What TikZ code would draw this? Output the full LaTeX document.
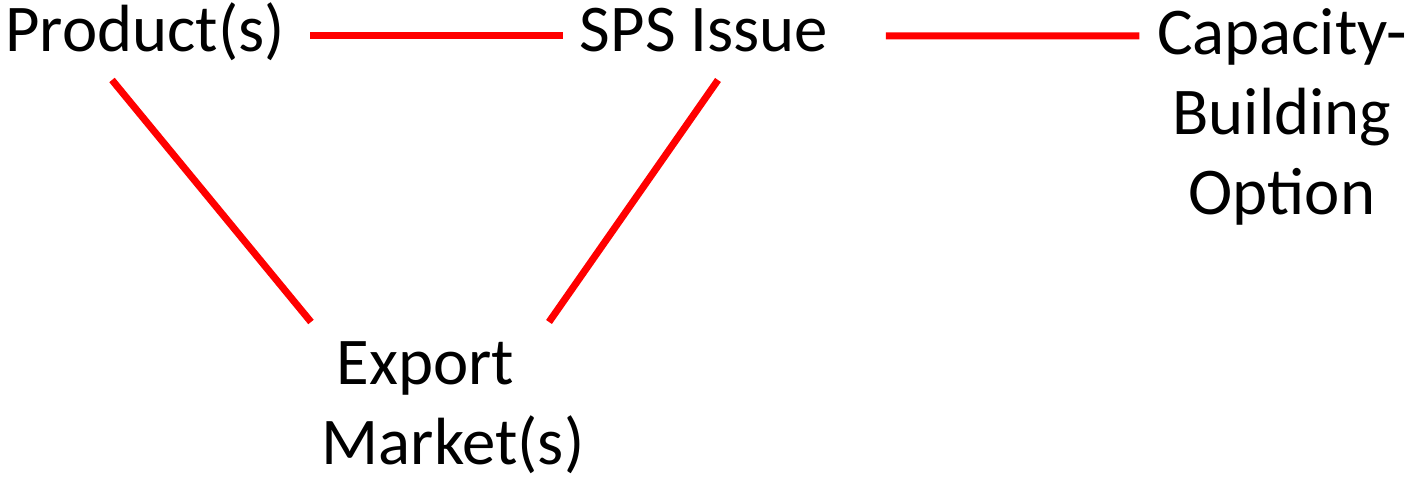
\documentclass[tikz,border=0pt]{standalone}
\usepackage{fontspec}
\setmainfont{Carlito}
\usepackage{tikz}
\usetikzlibrary{calc}

\begin{document}
\begin{tikzpicture}[
  term/.style={inner sep=0pt, anchor=base, align=center,
    font=\fontsize{19pt}{22.8pt}\selectfont},
  link/.style={draw=red, line width=2pt}
]
  \useasboundingbox (0,0) rectangle (14.13,4.80);
  \node[term] (prod) at (1.45,4.28) {Product(s)};
  \node[term] (sps) at (7.04,4.28) {SPS Issue};
  \node[term] (cap) at (12.82,2.65) {Capacity-\\Building\\Option};
  \node[term] (exp) at (4.53,0.15) {Export\kern15.6pt\\Market(s)};
  % links between the terms
  \draw[link] ($(prod.base east)+(0.25,0.16)$) -- ($(sps.base west)+(-0.16,0.16)$);
  \draw[link] ($(sps.base east)+(0.57,0.16)$) -- ($(cap.base west)+(-0.17,1.79)$);
  \draw[link] ($(prod.base)+(-0.33,-0.28)$) -- ($(exp.base)+(-1.42,1.43)$);
  \draw[link] ($(sps.base)+(0.14,-0.28)$) -- ($(exp.base)+(0.96,1.43)$);
\end{tikzpicture}
\end{document}
